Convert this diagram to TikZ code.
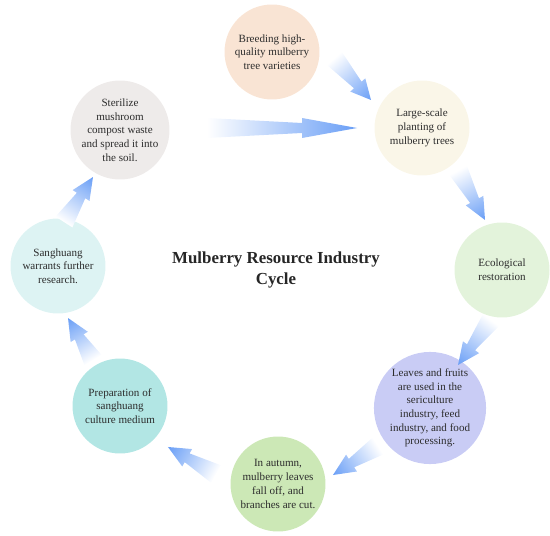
\documentclass[tikz,border=0pt]{standalone}
\usepackage{fontspec}
\setmainfont{Liberation Serif}
\definecolor{breedfill}{RGB}{249,228,212}
\definecolor{plantfill}{RGB}{250,246,232}
\definecolor{ecofill}{RGB}{227,243,219}
\definecolor{leaffill}{RGB}{201,204,245}
\definecolor{autumnfill}{RGB}{204,232,182}
\definecolor{prepfill}{RGB}{178,230,228}
\definecolor{sangfill}{RGB}{221,243,243}
\definecolor{sterfill}{RGB}{238,235,234}
\definecolor{flowblue}{RGB}{105,158,246}
\definecolor{textgray}{RGB}{45,45,45}

\makeatletter
\newcommand\flowarrow[3]{%
  \pgfpointanchor{#1}{center}\edef\tailx{\the\pgf@x}\edef\taily{\the\pgf@y}%
  \pgfpointanchor{#2}{center}\edef\headx{\the\pgf@x}\edef\heady{\the\pgf@y}%
  \pgfmathsetmacro\flowang{atan2(\heady-\taily,\headx-\tailx)}%
  \pgfmathsetmacro\flowlen{veclen(\headx-\tailx,\heady-\taily)/0.569055}%
  \pgfmathsetmacro\flowneck{\flowlen-#3}%
  \begin{scope}[transform canvas={shift={(\tailx,\taily)},rotate=\flowang}]
    \shade[left color=white, right color=flowblue]
      (0,10) -- (\flowneck,5) -- (\flowneck,10) -- (\flowlen,0)
      -- (\flowneck,-10) -- (\flowneck,-5) -- (0,-10) -- cycle;
  \end{scope}}
\makeatother

\begin{document}
\begin{tikzpicture}[x=0.02cm, y=0.02cm,
    stage/.style={circle, minimum size=1.9cm, inner sep=0pt, align=center,
      text=textgray, font=\fontsize{6.3}{7.8}\selectfont}]
		\useasboundingbox (0,0) rectangle (550,-536);
		\node[stage, fill=breedfill] (breed) at (272,-52) {Breeding high-\\quality mulberry\\tree varieties};
		\node[stage, fill=plantfill] (plant) at (422,-128) {Large-scale\\planting of\\mulberry trees};
		\node[stage, fill=ecofill] (eco) at (502,-270) {Ecological\\restoration};
		\node[stage, fill=leaffill] (leaves) at (430,-408) {Leaves and fruits\\are used in the\\sericulture\\industry, feed\\industry, and food\\processing.};
		\node[stage, fill=autumnfill] (autumn) at (278,-484) {In autumn,\\mulberry leaves\\fall off, and\\branches are cut.};
		\node[stage, fill=prepfill] (prep) at (120,-406) {Preparation of\\sanghuang\\culture medium};
		\node[stage, fill=sangfill] (sang) at (58,-266) {Sanghuang\\warrants further\\research.};
		\node[stage, fill=sterfill] (steril) at (120,-130) {Sterilize\\mushroom\\compost waste\\and spread it into\\the soil.};
		\node[align=center, text=black!85, font=\fontsize{9.6}{11.8}\selectfont\bfseries] (title) at (276,-270) {Mulberry Resource Industry\\Cycle};
		\coordinate (breedout) at (334,-58);   \coordinate (plantin) at (371,-100);
		\coordinate (sterout) at (207,-128);   \coordinate (plantin2) at (357,-128);
		\coordinate (plantout) at (458,-170);  \coordinate (ecoin) at (485,-220);
		\coordinate (ecoout) at (491,-320);    \coordinate (leavesin) at (458,-365);
		\coordinate (leavesout) at (378,-446); \coordinate (autumnin) at (333,-475);
		\coordinate (autumnout) at (216,-474); \coordinate (prepin) at (168,-447);
		\coordinate (prepout) at (93,-360);    \coordinate (sangin) at (68,-318);
		\coordinate (sangout) at (64,-222);    \coordinate (sterin) at (93,-177);
		\flowarrow{breedout}{plantin}{20}
		\flowarrow{sterout}{plantin2}{55}
		\flowarrow{plantout}{ecoin}{22}
		\flowarrow{ecoout}{leavesin}{22}
		\flowarrow{leavesout}{autumnin}{22}
		\flowarrow{autumnout}{prepin}{22}
		\flowarrow{prepout}{sangin}{22}
		\flowarrow{sangout}{sterin}{22}
\end{tikzpicture}
\end{document}
